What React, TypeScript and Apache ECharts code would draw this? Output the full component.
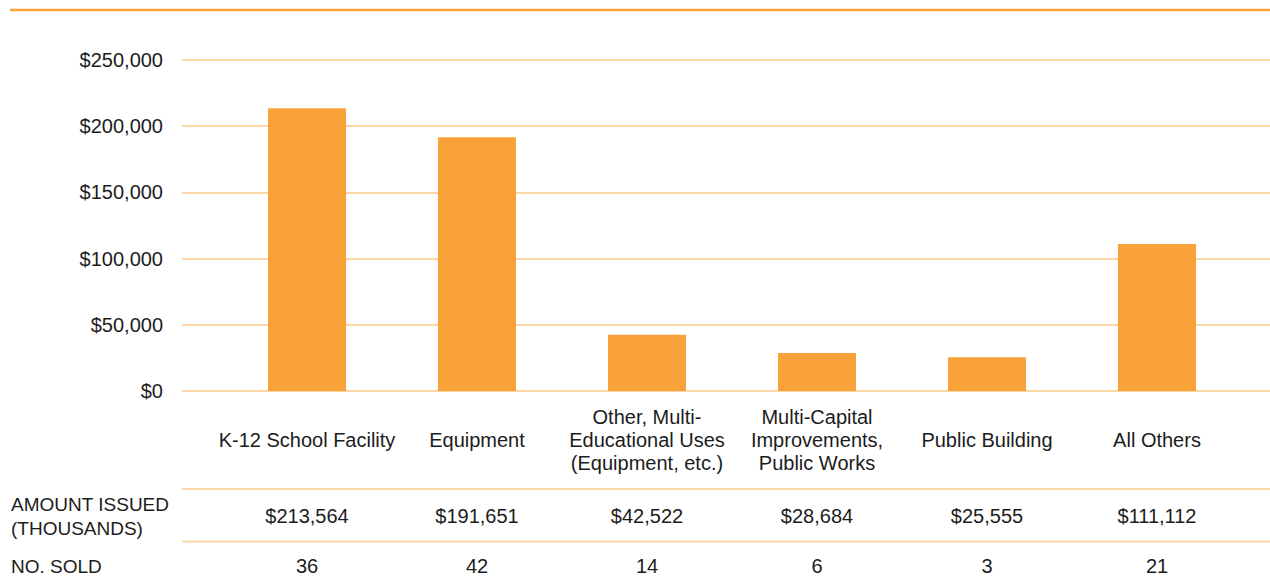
import React, { useEffect, useRef } from "react";
import * as echarts from "echarts";

const categories = [
  "K-12 School Facility",
  "Equipment",
  "Other, Multi-\nEducational Uses\n(Equipment, etc.)",
  "Multi-Capital\nImprovements,\nPublic Works",
  "Public Building",
  "All Others",
];
const amountIssued = [213564, 191651, 42522, 28684, 25555, 111112];
const numberSold = [36, 42, 14, 6, 3, 21];
const yTicks = { min: 0, max: 250000, interval: 50000 };
const rowHeaders = ["AMOUNT ISSUED\n(THOUSANDS)", "NO. SOLD"];

const ORANGE = "#F9A23A";
const LIGHT = "#FDD6A6";
const TEXT = "#1c1c1c";
const FONT = "Liberation Sans";
const FS = 20;

const money = (v: number) => "$" + v.toLocaleString("en-US");

export default function App() {
  const ref = useRef<HTMLDivElement>(null);
  useEffect(() => {
    if (!ref.current) return;
    const chart = echarts.init(ref.current, undefined, { renderer: "svg" });
    const hiddenAxis = {
      axisLine: { show: false },
      axisTick: { show: false },
    };
    chart.setOption({
      animation: false,
      textStyle: { fontFamily: FONT, color: TEXT },
      grid: [
        { left: 182, right: 0, top: 60, bottom: 185, containLabel: false },
        { left: 222, right: 28, top: 60, bottom: 185, containLabel: false },
      ],
      xAxis: [
        { type: "category", gridIndex: 0, show: false, data: categories },
        {
          type: "category",
          gridIndex: 1,
          data: categories,
          ...hiddenAxis,
          axisLabel: {
            interval: 0,
            margin: 49,
            verticalAlign: "middle",
            lineHeight: 23,
            fontSize: FS,
            fontFamily: FONT,
            color: TEXT,
          },
        },
        {
          type: "category",
          gridIndex: 1,
          position: "bottom",
          offset: 125,
          data: amountIssued.map(money),
          ...hiddenAxis,
          axisLabel: {
            interval: 0,
            margin: 0,
            verticalAlign: "middle",
            fontSize: FS,
            fontFamily: FONT,
            color: TEXT,
          },
        },
        {
          type: "category",
          gridIndex: 1,
          position: "bottom",
          offset: 175,
          data: numberSold.map(String),
          ...hiddenAxis,
          axisLabel: {
            interval: 0,
            margin: 0,
            verticalAlign: "middle",
            fontSize: FS,
            fontFamily: FONT,
            color: TEXT,
          },
        },
      ],
      yAxis: [
        {
          type: "value",
          gridIndex: 0,
          ...yTicks,
          axisLine: { show: false },
          axisTick: { show: false },
          splitLine: { show: true, lineStyle: { color: LIGHT, width: 2 } },
          axisLabel: {
            margin: 19,
            fontSize: FS,
            fontFamily: FONT,
            color: TEXT,
            formatter: (v: number) => money(v),
          },
        },
        {
          type: "value",
          gridIndex: 1,
          ...yTicks,
          show: false,
          splitLine: { show: false },
        },
      ],
      series: [
        {
          type: "bar",
          xAxisIndex: 1,
          yAxisIndex: 1,
          data: amountIssued,
          barWidth: 78,
          itemStyle: { color: ORANGE },
        },
      ],
      graphic: [
        {
          type: "line",
          shape: { x1: 10, y1: 10, x2: 1270, y2: 10 },
          style: { stroke: ORANGE, lineWidth: 2.5 },
        },
        {
          type: "line",
          shape: { x1: 182, y1: 489, x2: 1270, y2: 489 },
          style: { stroke: LIGHT, lineWidth: 2 },
        },
        {
          type: "line",
          shape: { x1: 182, y1: 541.5, x2: 1270, y2: 541.5 },
          style: { stroke: LIGHT, lineWidth: 2 },
        },
        {
          type: "text",
          x: 11,
          y: 516,
          style: {
            text: rowHeaders[0],
            fontSize: 19,
            fontFamily: FONT,
            fill: TEXT,
            lineHeight: 24,
            verticalAlign: "middle",
            align: "left",
          },
        },
        {
          type: "text",
          x: 11,
          y: 566,
          style: {
            text: rowHeaders[1],
            fontSize: 19,
            fontFamily: FONT,
            fill: TEXT,
            verticalAlign: "middle",
            align: "left",
          },
        },
      ],
    });
    return () => chart.dispose();
  }, []);
  return (
    <div
      ref={ref}
      style={{ position: "absolute", left: 0, top: 0, width: 1270, height: 576, background: "#fff" }}
    />
  );
}
